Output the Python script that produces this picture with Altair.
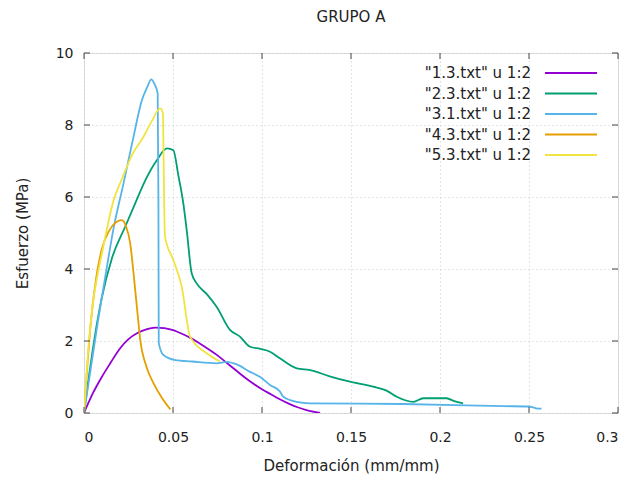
import altair as alt
import pandas as pd

FONT = "DejaVu Sans"

series_names = ['"1.3.txt" u 1:2', '"2.3.txt" u 1:2', '"3.1.txt" u 1:2',
                '"4.3.txt" u 1:2', '"5.3.txt" u 1:2']
series_colors = ["#9400D3", "#009E73", "#56B4E9", "#E69F00", "#F0E442"]

x_ticks = [0, 0.05, 0.1, 0.15, 0.2, 0.25, 0.3]
y_ticks = [0, 2, 4, 6, 8, 10]

s13_x = [0, 0.005, 0.010, 0.015, 0.020, 0.025, 0.030, 0.035, 0.040, 0.045,
         0.050, 0.055, 0.060, 0.065, 0.070, 0.075, 0.080, 0.085, 0.090, 0.095,
         0.100, 0.105, 0.110, 0.115, 0.120, 0.125, 0.1326]
s13_y = [0, 0.55, 1.0, 1.4, 1.78, 2.05, 2.22, 2.32, 2.37, 2.36,
         2.30, 2.20, 2.08, 1.93, 1.77, 1.60, 1.40, 1.20, 1.00, 0.82,
         0.66, 0.52, 0.38, 0.26, 0.16, 0.08, 0]

s23_x = [0, 0.003, 0.006, 0.010, 0.0157, 0.0232, 0.029, 0.0345, 0.041, 0.0466,
         0.0502, 0.053, 0.0558, 0.0577, 0.0605, 0.0633, 0.069, 0.0745, 0.082, 0.0876,
         0.0933, 0.0990, 0.1045, 0.1100, 0.1195, 0.1270, 0.1380, 0.1494, 0.1625, 0.1700,
         0.1757, 0.1850, 0.1906, 0.2037, 0.2080, 0.2130]
s23_y = [0, 1.1, 2.1, 3.2, 4.3, 5.18, 5.85, 6.47, 7.03, 7.35,
         7.30, 6.6, 5.82, 5.08, 3.88, 3.6, 3.3, 2.95, 2.31, 2.12,
         1.84, 1.78, 1.70, 1.52, 1.24, 1.19, 1.02, 0.87, 0.73, 0.62,
         0.45, 0.31, 0.41, 0.41, 0.33, 0.27]

s31_x = [0, 0.004, 0.008, 0.012, 0.0165, 0.0223, 0.0275, 0.0326, 0.0355, 0.0378,
         0.0395, 0.0414, 0.0418, 0.0420, 0.0446, 0.0513, 0.0607, 0.0745, 0.0800, 0.0858,
         0.0930, 0.0990, 0.1045, 0.1100, 0.1120, 0.1195, 0.1270, 0.1790, 0.2356, 0.2500,
         0.2540, 0.2570]
s31_y = [0, 1.3, 2.6, 3.8, 5.1, 6.4, 7.6, 8.7, 9.05, 9.27,
         9.15, 8.88, 6.0, 1.95, 1.61, 1.47, 1.43, 1.38, 1.42, 1.35,
         1.15, 1.0, 0.78, 0.6, 0.45, 0.31, 0.27, 0.25, 0.19, 0.18,
         0.13, 0.12]

s43_x = [0, 0.002, 0.004, 0.007, 0.010, 0.014, 0.018, 0.0213, 0.0235, 0.026,
         0.028, 0.030, 0.0316, 0.035, 0.0391, 0.044, 0.0485]
s43_y = [0, 1.4, 2.6, 3.8, 4.55, 5.05, 5.3, 5.36, 5.2, 4.7,
         3.8, 2.8, 2.03, 1.3, 0.82, 0.4, 0.1]

s53_x = [0, 0.002, 0.0054, 0.0073, 0.0101, 0.0167, 0.0213, 0.0273, 0.0335, 0.038,
         0.0429, 0.0444, 0.0446, 0.0455, 0.0502, 0.0549, 0.0596, 0.0689, 0.0764]
s53_y = [0, 1.5, 3.2, 3.75, 4.44, 5.92, 6.5, 7.2, 7.68, 8.1,
         8.46, 8.3, 7.5, 4.9, 4.25, 3.51, 2.12, 1.66, 1.43]

all_x = [s13_x, s23_x, s31_x, s43_x, s53_x]
all_y = [s13_y, s23_y, s31_y, s43_y, s53_y]

rows = []
for name, xs, ys in zip(series_names, all_x, all_y):
    for i, (a, b) in enumerate(zip(xs, ys)):
        rows.append({"serie": name, "x": a, "y": b, "idx": i})
df = pd.DataFrame(rows)

W, H = 534, 360
TXT = "#222222"
GRID = "#c8c8c8"

xscale = alt.Scale(domain=[0, 0.3], nice=False, zero=False)
yscale = alt.Scale(domain=[0, 10], nice=False, zero=False)
cscale = alt.Scale(domain=series_names, range=series_colors)

lines = alt.Chart(df).mark_line(strokeWidth=1.8, clip=True, interpolate="monotone").encode(
    x=alt.X("x:Q", scale=xscale,
            axis=alt.Axis(title="Deformación (mm/mm)", values=x_ticks, format=".2~f",
                          domain=False, ticks=False, grid=True, gridDash=[1, 3],
                          gridColor=GRID, labelPadding=17, titlePadding=14,
                          labelFont=FONT, labelFontSize=14, labelColor=TXT,
                          titleFont=FONT, titleFontSize=15, titleFontWeight="normal",
                          titleColor=TXT)),
    y=alt.Y("y:Q", scale=yscale,
            axis=alt.Axis(title="Esfuerzo (MPa)", values=y_ticks, format="d",
                          domain=False, ticks=False, grid=True, gridDash=[1, 3],
                          gridColor=GRID, labelPadding=11, titlePadding=25,
                          labelFont=FONT, labelFontSize=14, labelColor=TXT,
                          titleFont=FONT, titleFontSize=15, titleFontWeight="normal",
                          titleColor=TXT)),
    color=alt.Color("serie:N", scale=cscale, legend=None),
    order=alt.Order("idx:Q"),
)

xt = pd.DataFrame({"v": x_ticks})
yt = pd.DataFrame({"v": y_ticks})
tick_color = "#444444"
xb = alt.Chart(xt).mark_rule(color=tick_color).encode(
    x=alt.X("v:Q", scale=xscale), y=alt.value(H), y2=alt.value(H - 6))
xtop = alt.Chart(xt).mark_rule(color=tick_color).encode(
    x=alt.X("v:Q", scale=xscale), y=alt.value(0), y2=alt.value(6))
yl = alt.Chart(yt).mark_rule(color=tick_color).encode(
    y=alt.Y("v:Q", scale=yscale), x=alt.value(0), x2=alt.value(6))
yr = alt.Chart(yt).mark_rule(color=tick_color).encode(
    y=alt.Y("v:Q", scale=yscale), x=alt.value(W), x2=alt.value(W - 6))

# legend (gnuplot style: label then line sample)
leg_layers = []
for i, (name, col) in enumerate(zip(series_names, series_colors)):
    yy = 20 + i * 20.5
    leg_layers.append(alt.Chart(pd.DataFrame({"t": [name]})).mark_text(
        align="right", baseline="middle", font=FONT, fontSize=15, color=TXT).encode(
        text="t:N", x=alt.value(447), y=alt.value(yy)))
    leg_layers.append(alt.Chart(pd.DataFrame({"t": [name]})).mark_rule(
        color=col, strokeWidth=1.8).encode(
        x=alt.value(461), x2=alt.value(513), y=alt.value(yy)))

chart = alt.layer(lines, xb, xtop, yl, yr, *leg_layers).properties(
    width=W, height=H,
    title=alt.TitleParams("GRUPO A", font=FONT, fontSize=15, fontWeight="normal",
                          color=TXT, offset=21, anchor="middle"),
    autosize=alt.AutoSizeParams(type="none"),
    padding={"left": 76, "top": 45, "right": 9, "bottom": 62},
).configure_view(stroke="#444444", strokeWidth=1).configure(background="white")

chart.save("out.html", embed_options={"renderer": "svg", "actions": False})
